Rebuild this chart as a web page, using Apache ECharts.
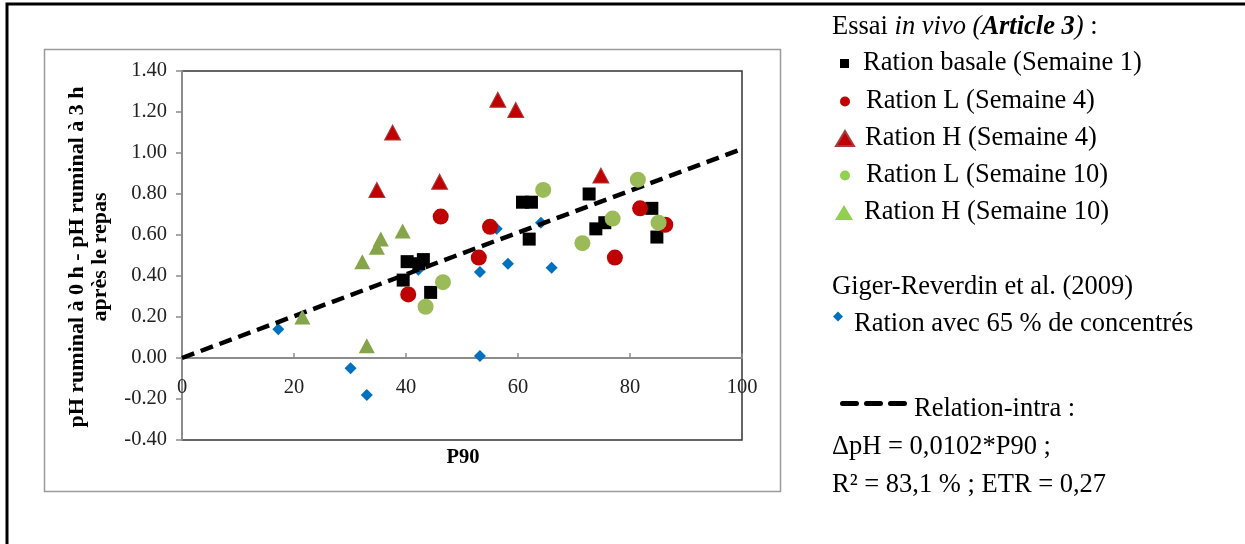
<!DOCTYPE html>
<html>
<head>
<meta charset="utf-8">
<script src="https://cdn.jsdelivr.net/npm/echarts@6/dist/echarts.min.js"></script>
<style>
  html, body { margin: 0; padding: 0; background: #fff; }
  #main { width: 1245px; height: 544px; }
</style>
</head>
<body>
<div id="main"></div>
<script>
// Essai in vivo (Article 3)
const basalX = [39.5, 40.2, 42.3, 43.1, 44.4, 60.8, 62.0, 62.4, 72.7, 73.9, 75.5, 83.9, 84.8];
const basalY = [0.38, 0.47, 0.46, 0.48, 0.32, 0.76, 0.58, 0.76, 0.80, 0.63, 0.66, 0.73, 0.59];
const lSem4X = [40.4, 46.2, 53.0, 55.0, 77.3, 81.8, 86.3];
const lSem4Y = [0.31, 0.69, 0.49, 0.64, 0.49, 0.73, 0.65];
const hSem4X = [34.8, 37.6, 46.0, 56.4, 59.6, 74.8];
const hSem4Y = [0.82, 1.10, 0.86, 1.26, 1.21, 0.89];
const lSem10X = [43.5, 46.6, 64.5, 71.5, 76.9, 81.4, 85.1];
const lSem10Y = [0.25, 0.37, 0.82, 0.56, 0.68, 0.87, 0.66];
const hSem10X = [21.5, 32.2, 33.0, 34.8, 35.5, 39.4];
const hSem10Y = [0.20, 0.47, 0.06, 0.54, 0.58, 0.62];
// Giger-Reverdin et al. (2009)
const gigerX = [17.2, 30.1, 33.0, 42.2, 53.2, 53.2, 56.2, 58.2, 64.1, 66.0];
const gigerY = [0.14, -0.05, -0.18, 0.43, 0.42, 0.01, 0.63, 0.46, 0.66, 0.44];
// relation-intra : dpH = 0,0102*P90
const trendX = [0, 100];
const trendY = [0, 1.02];

const seriesNames = [
    'Ration basale (Semaine 1)',
    'Ration L (Semaine 4)',
    'Ration H (Semaine 4)',
    'Ration L (Semaine 10)',
    'Ration H (Semaine 10)',
    'Ration avec 65 % de concentrés',
    'Relation-intra :'
];

const pairs = (xs, ys) => xs.map((x, i) => [x, ys[i]]);
const serif = '"Liberation Serif", "Times New Roman", serif';
const legFont = 26.5;

function legendRow(name, left, top, w, h, padLeft, color, icon) {
    const item = {name: name};
    if (color) item.itemStyle = {color: color};
    if (icon) item.icon = icon;
    return {
        data: [item],
        left: left, top: top, padding: 0,
        itemWidth: w, itemHeight: h,
        selectedMode: false,
        textStyle: {fontFamily: serif, fontSize: legFont, color: '#000', padding: [0, 0, 0, padLeft]}
    };
}

// icons drawn in the upper part of a taller box, so they sit above the text middle
const diamondIcon = 'path://M5,0L10,5L5,10L0,5Z M5,26L5.01,26Z';
const dashIcon = 'path://M2.5,0h14a2.5,2.5,0,0,1,0,5h-14a2.5,2.5,0,0,1,0,-5z' +
    'M26.5,0h14a2.5,2.5,0,0,1,0,5h-14a2.5,2.5,0,0,1,0,-5z' +
    'M50.5,0h14a2.5,2.5,0,0,1,0,5h-14a2.5,2.5,0,0,1,0,-5z M33,17L33.01,17Z';

const option = {
    animation: false,
    grid: {left: 182, right: 503, top: 71, bottom: 104, show: true, borderColor: '#333', borderWidth: 1.5},
    xAxis: {
        type: 'value', min: 0, max: 100, interval: 20,
        offset: -82,
        axisLine: {onZero: false, lineStyle: {color: '#8c8c8c', width: 2}},
        axisTick: {show: true, inside: true, length: 5, lineStyle: {color: '#8c8c8c', width: 1.5}},
        axisLabel: {fontFamily: serif, fontSize: 20.5, color: '#222', margin: 19},
        splitLine: {show: false}
    },
    yAxis: {
        type: 'value', min: -0.4, max: 1.4, interval: 0.2,
        axisLine: {show: true, onZero: false, lineStyle: {color: '#8c8c8c', width: 2}},
        axisTick: {show: true, length: 6, lineStyle: {color: '#8c8c8c', width: 1.5}},
        axisLabel: {fontFamily: serif, fontSize: 20.5, color: '#222', margin: 15, formatter: v => v.toFixed(2)},
        splitLine: {show: false}
    },
    legend: [
        legendRow(seriesNames[0], 840, 50, 9, 9, 9),
        legendRow(seriesNames[1], 840, 88, 10, 10, 11),
        legendRow(seriesNames[2], 835, 125, 18, 15, 6, '#C00000'),
        legendRow(seriesNames[3], 840, 162, 10, 10, 11, '#92D050'),
        legendRow(seriesNames[4], 835, 199, 18, 15, 6, '#92D050'),
        legendRow(seriesNames[5], 833, 311, 10, 26, 6, null, diamondIcon),
        legendRow(seriesNames[6], 840, 396, 67, 17, 2, '#000', dashIcon)
    ],
    graphic: [
        {type: 'rect', silent: true, shape: {x: 7, y: 4, width: 1400, height: 700},
         style: {fill: 'none', stroke: '#000', lineWidth: 3}},
        {type: 'rect', silent: true, shape: {x: 44.5, y: 49.5, width: 736, height: 442},
         style: {fill: 'none', stroke: '#9a9a9a', lineWidth: 1.5}},
        {type: 'text', x: 832, y: 27, style: {
            text: '{n|Essai }{i|in vivo (}{bi|Article 3}{i|)}{n| :}',
            textVerticalAlign: 'middle',
            rich: {
                n: {fontFamily: serif, fontSize: legFont, color: '#000'},
                i: {fontFamily: serif, fontSize: legFont, color: '#000', fontStyle: 'italic'},
                bi: {fontFamily: serif, fontSize: legFont, color: '#000', fontStyle: 'italic', fontWeight: 'bold'}
            }
        }},
        {type: 'text', x: 832, y: 287, style: {
            text: 'Giger-Reverdin et al. (2009)', fontFamily: serif, fontSize: legFont, fill: '#000', textVerticalAlign: 'middle'}},
        {type: 'text', x: 832, y: 447, style: {
            text: 'ΔpH = 0,0102*P90 ;', fontFamily: serif, fontSize: legFont, fill: '#000', textVerticalAlign: 'middle'}},
        {type: 'text', x: 832, y: 485, style: {
            text: 'R² = 83,1 % ; ETR = 0,27', fontFamily: serif, fontSize: legFont, fill: '#000', textVerticalAlign: 'middle'}},
        {type: 'text', x: 463, y: 458, style: {
            text: 'P90', fontFamily: serif, fontSize: 20.5, fontWeight: 'bold', fill: '#000',
            textAlign: 'center', textVerticalAlign: 'middle'}},
        {type: 'text', x: 89, y: 257, rotation: Math.PI / 2, style: {
            text: 'pH ruminal à 0 h - pH ruminal à 3 h\naprès le repas', fontFamily: serif, fontSize: 22,
            fontWeight: 'bold', fill: '#000', textAlign: 'center', textVerticalAlign: 'middle', lineHeight: 23}}
    ],
    series: [
        {name: seriesNames[5], type: 'scatter', data: pairs(gigerX, gigerY), symbol: 'diamond', symbolSize: 12,
         itemStyle: {color: '#0070C0', opacity: 1}, z: 2},
        {name: seriesNames[6], type: 'line', data: pairs(trendX, trendY), symbol: 'none', z: 3,
         itemStyle: {color: '#000'},
         lineStyle: {color: '#000', width: 4.5, type: [13, 7]}},
        {name: seriesNames[0], type: 'scatter', data: pairs(basalX, basalY), symbol: 'rect', symbolSize: 13,
         itemStyle: {color: '#000', opacity: 1}, z: 4},
        {name: seriesNames[1], type: 'scatter', data: pairs(lSem4X, lSem4Y), symbol: 'circle', symbolSize: 16,
         itemStyle: {color: '#C00000', opacity: 1}, z: 4},
        {name: seriesNames[2], type: 'scatter', data: pairs(hSem4X, hSem4Y), symbol: 'triangle', symbolSize: [16, 15],
         itemStyle: {color: '#C00000', borderColor: '#A83C3C', borderWidth: 1, opacity: 1}, z: 4},
        {name: seriesNames[3], type: 'scatter', data: pairs(lSem10X, lSem10Y), symbol: 'circle', symbolSize: 16,
         itemStyle: {color: '#9BBB59', opacity: 1}, z: 4},
        {name: seriesNames[4], type: 'scatter', data: pairs(hSem10X, hSem10Y), symbol: 'triangle', symbolSize: [16, 15],
         itemStyle: {color: '#86A449', opacity: 1}, z: 4}
    ]
};

const chart = echarts.init(document.getElementById('main'));
chart.setOption(option);
</script>
</body>
</html>
